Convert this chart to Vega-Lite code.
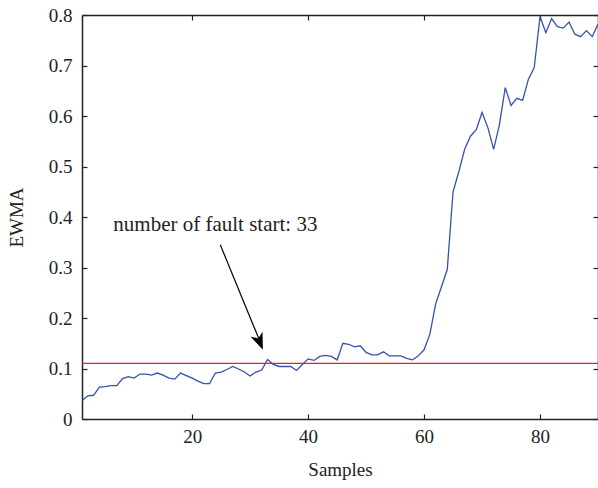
{
  "$schema": "https://vega.github.io/schema/vega-lite/v6.json",
  "autosize": {"type": "none"},
  "width": 516,
  "height": 404,
  "padding": {"left": 82, "top": 15, "right": 0, "bottom": 69},
  "background": "white",
  "config": {
    "view": {"stroke": null},
    "font": "Liberation Serif",
    "axis": {
      "grid": false,
      "domainColor": "#222222",
      "domainWidth": 1.5,
      "tickColor": "#222222",
      "tickWidth": 1.2,
      "labelFont": "Liberation Serif",
      "labelFontSize": 19,
      "labelColor": "#222222",
      "titleFont": "Liberation Serif",
      "titleFontSize": 19,
      "titleFontWeight": "normal",
      "titleColor": "#222222"
    }
  },
  "datasets": {
    "ewma": [
      {"sample": 1, "ewma": 0.036}, {"sample": 2, "ewma": 0.046}, {"sample": 3, "ewma": 0.047},
      {"sample": 4, "ewma": 0.063}, {"sample": 5, "ewma": 0.064}, {"sample": 6, "ewma": 0.066},
      {"sample": 7, "ewma": 0.066}, {"sample": 8, "ewma": 0.080}, {"sample": 9, "ewma": 0.084},
      {"sample": 10, "ewma": 0.081}, {"sample": 11, "ewma": 0.089}, {"sample": 12, "ewma": 0.089},
      {"sample": 13, "ewma": 0.087}, {"sample": 14, "ewma": 0.091}, {"sample": 15, "ewma": 0.087},
      {"sample": 16, "ewma": 0.081}, {"sample": 17, "ewma": 0.079}, {"sample": 18, "ewma": 0.091},
      {"sample": 19, "ewma": 0.086}, {"sample": 20, "ewma": 0.081}, {"sample": 21, "ewma": 0.075},
      {"sample": 22, "ewma": 0.070}, {"sample": 23, "ewma": 0.070}, {"sample": 24, "ewma": 0.091},
      {"sample": 25, "ewma": 0.093}, {"sample": 26, "ewma": 0.098}, {"sample": 27, "ewma": 0.104},
      {"sample": 28, "ewma": 0.099}, {"sample": 29, "ewma": 0.093}, {"sample": 30, "ewma": 0.085},
      {"sample": 31, "ewma": 0.093}, {"sample": 32, "ewma": 0.097}, {"sample": 33, "ewma": 0.118},
      {"sample": 34, "ewma": 0.108}, {"sample": 35, "ewma": 0.104}, {"sample": 36, "ewma": 0.104},
      {"sample": 37, "ewma": 0.104}, {"sample": 38, "ewma": 0.096}, {"sample": 39, "ewma": 0.108},
      {"sample": 40, "ewma": 0.119}, {"sample": 41, "ewma": 0.116}, {"sample": 42, "ewma": 0.124},
      {"sample": 43, "ewma": 0.126}, {"sample": 44, "ewma": 0.124}, {"sample": 45, "ewma": 0.117},
      {"sample": 46, "ewma": 0.150}, {"sample": 47, "ewma": 0.148}, {"sample": 48, "ewma": 0.143},
      {"sample": 49, "ewma": 0.145}, {"sample": 50, "ewma": 0.132}, {"sample": 51, "ewma": 0.127},
      {"sample": 52, "ewma": 0.127}, {"sample": 53, "ewma": 0.133}, {"sample": 54, "ewma": 0.125},
      {"sample": 55, "ewma": 0.125}, {"sample": 56, "ewma": 0.125}, {"sample": 57, "ewma": 0.120},
      {"sample": 58, "ewma": 0.117}, {"sample": 59, "ewma": 0.125}, {"sample": 60, "ewma": 0.137},
      {"sample": 61, "ewma": 0.168}, {"sample": 62, "ewma": 0.228}, {"sample": 63, "ewma": 0.262},
      {"sample": 64, "ewma": 0.296}, {"sample": 65, "ewma": 0.450}, {"sample": 66, "ewma": 0.490},
      {"sample": 67, "ewma": 0.534}, {"sample": 68, "ewma": 0.560}, {"sample": 69, "ewma": 0.573},
      {"sample": 70, "ewma": 0.607}, {"sample": 71, "ewma": 0.577}, {"sample": 72, "ewma": 0.534},
      {"sample": 73, "ewma": 0.583}, {"sample": 74, "ewma": 0.656}, {"sample": 75, "ewma": 0.621},
      {"sample": 76, "ewma": 0.635}, {"sample": 77, "ewma": 0.631}, {"sample": 78, "ewma": 0.673},
      {"sample": 79, "ewma": 0.696}, {"sample": 80, "ewma": 0.797}, {"sample": 81, "ewma": 0.765},
      {"sample": 82, "ewma": 0.793}, {"sample": 83, "ewma": 0.777}, {"sample": 84, "ewma": 0.774},
      {"sample": 85, "ewma": 0.786}, {"sample": 86, "ewma": 0.762}, {"sample": 87, "ewma": 0.757},
      {"sample": 88, "ewma": 0.769}, {"sample": 89, "ewma": 0.757}, {"sample": 90, "ewma": 0.782}
    ]
  },
  "resolve": {"axis": {"x": "independent", "y": "independent"}},
  "layer": [
    {
      "data": {"name": "ewma"},
      "mark": {"type": "line", "color": "#3550ad", "strokeWidth": 1.3, "clip": true},
      "encoding": {
        "x": {"field": "sample", "type": "quantitative",
              "scale": {"domain": [1, 90], "nice": false, "zero": false},
              "axis": {"title": "Samples", "values": [20, 40, 60, 80], "tickSize": -5,
                       "labelPadding": 13, "titlePadding": 14}},
        "y": {"field": "ewma", "type": "quantitative",
              "scale": {"domain": [0, 0.8], "nice": false},
              "axis": {"title": "EWMA", "values": [0, 0.1, 0.2, 0.3, 0.4, 0.5, 0.6, 0.7, 0.8],
                       "tickSize": -5, "labelPadding": 15, "titlePadding": 22,
                       "labelExpr": "datum.value == 0 ? '0' : format(datum.value, '.1f')"}}
      }
    },
    {
      "data": {"values": [{"threshold": 0.11}]},
      "mark": {"type": "rule", "color": "#ee1c25", "strokeWidth": 1.2},
      "encoding": {
        "y": {"field": "threshold", "type": "quantitative",
              "axis": {"orient": "right", "labels": false, "title": null, "tickSize": -5,
                       "values": [0, 0.1, 0.2, 0.3, 0.4, 0.5, 0.6, 0.7, 0.8]}},
        "x": {"datum": 1, "type": "quantitative",
              "axis": {"orient": "top", "labels": false, "title": null, "tickSize": -5,
                       "values": [20, 40, 60, 80]}},
        "x2": {"datum": 90}
      }
    },
    {
      "data": {"values": [{"x1": 24.85, "y1": 0.345, "x2": 32.0, "y2": 0.145}]},
      "mark": {"type": "rule", "color": "black", "strokeWidth": 1.2},
      "encoding": {
        "x": {"field": "x1", "type": "quantitative", "axis": null},
        "y": {"field": "y1", "type": "quantitative", "axis": null},
        "x2": {"field": "x2"},
        "y2": {"field": "y2"}
      }
    },
    {
      "data": {"values": [{"x": 32.2, "y": 0.137}]},
      "mark": {"type": "point", "shape": "M0,0 L-0.38,-1 L0,-0.72 L0.38,-1 Z", "filled": true,
               "color": "black", "opacity": 1, "size": 1156, "angle": 338},
      "encoding": {
        "x": {"field": "x", "type": "quantitative", "axis": null},
        "y": {"field": "y", "type": "quantitative", "axis": null}
      }
    },
    {
      "data": {"values": [{"x": 6.4, "y": 0.385, "label": "number of fault start: 33"}]},
      "mark": {"type": "text", "align": "left", "baseline": "middle", "font": "Liberation Serif",
               "fontSize": 21, "color": "#222222"},
      "encoding": {
        "x": {"field": "x", "type": "quantitative", "axis": null},
        "y": {"field": "y", "type": "quantitative", "axis": null},
        "text": {"field": "label"}
      }
    }
  ]
}
